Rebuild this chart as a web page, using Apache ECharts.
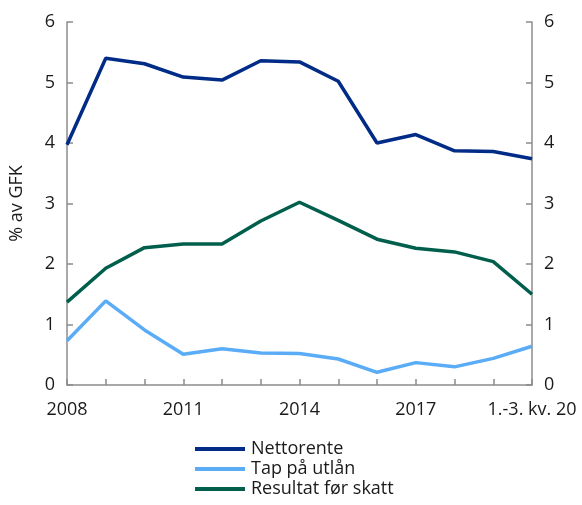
<!DOCTYPE html>
<html>
<head>
<meta charset="utf-8">
<script src="https://cdn.jsdelivr.net/npm/echarts@6/dist/echarts.min.js"></script>
<style>html,body{margin:0;padding:0;background:#fff}#c{width:582px;height:505px}</style>
</head>
<body>
<div id="c"></div>
<script>
const categories = ['2008','2009','2010','2011','2012','2013','2014','2015','2016','2017','2018','2019','1.-3. kv. 20'];
const nettorente = [3.97, 5.40, 5.31, 5.09, 5.04, 5.36, 5.34, 5.02, 4.00, 4.14, 3.87, 3.86, 3.74];
const tapPaUtlan = [0.73, 1.39, 0.91, 0.51, 0.60, 0.53, 0.52, 0.43, 0.21, 0.37, 0.30, 0.44, 0.64];
const resultat = [1.37, 1.93, 2.27, 2.33, 2.33, 2.71, 3.02, 2.72, 2.41, 2.26, 2.20, 2.04, 1.50];
const yTicks = [0, 1, 2, 3, 4, 5, 6];

const font = '"Open Sans", "Noto Sans", sans-serif';
const axisColor = '#8c8c8c';
const chart = echarts.init(document.getElementById('c'));
const yAxisBase = {
  type: 'value', min: yTicks[0], max: yTicks[yTicks.length-1], interval: 1,
  axisLine: {show: true, lineStyle: {color: axisColor, width: 1.5}},
  axisTick: {show: true, inside: true, length: 6, lineStyle: {color: axisColor, width: 1.5}},
  splitLine: {show: false},
  axisLabel: {color: '#1a1a1a', fontSize: 18, fontFamily: font, margin: 12}
};
chart.setOption({
  animation: false,
  grid: {left: 67, right: 50, top: 22, bottom: 120},
  xAxis: {
    type: 'category', data: categories, boundaryGap: false,
    axisLine: {lineStyle: {color: axisColor, width: 1.5}},
    axisTick: {show: true, inside: true, length: 6, interval: 0, lineStyle: {color: axisColor, width: 1.5}},
    axisLabel: {interval: 2, color: '#1a1a1a', fontSize: 18, fontFamily: font, margin: 16, showMaxLabel: true}
  },
  yAxis: [
    Object.assign({}, yAxisBase, {position: 'left', name: '% av GFK', nameLocation: 'middle', nameGap: 41,
      nameTextStyle: {color: '#1a1a1a', fontSize: 18, fontFamily: font}}),
    Object.assign({}, yAxisBase, {position: 'right'})
  ],
  legend: {
    orient: 'vertical', left: 190, top: 434, itemGap: 0, itemWidth: 50, itemHeight: 4, icon: 'rect',
    textStyle: {fontSize: 18, fontFamily: font, color: '#1a1a1a', lineHeight: 20, padding: [0,0,0,1]},
    data: ['Nettorente', 'Tap på utlån', 'Resultat før skatt']
  },
  series: [
    {name: 'Nettorente', type: 'line', data: nettorente, symbol: 'none', lineStyle: {width: 3.5, color: '#002b87'}, itemStyle: {color: '#002b87'}},
    {name: 'Tap på utlån', type: 'line', data: tapPaUtlan, symbol: 'none', lineStyle: {width: 3.5, color: '#5aacf7'}, itemStyle: {color: '#5aacf7'}},
    {name: 'Resultat før skatt', type: 'line', data: resultat, symbol: 'none', lineStyle: {width: 3.5, color: '#005e4c'}, itemStyle: {color: '#005e4c'}}
  ]
});
</script>
</body>
</html>
